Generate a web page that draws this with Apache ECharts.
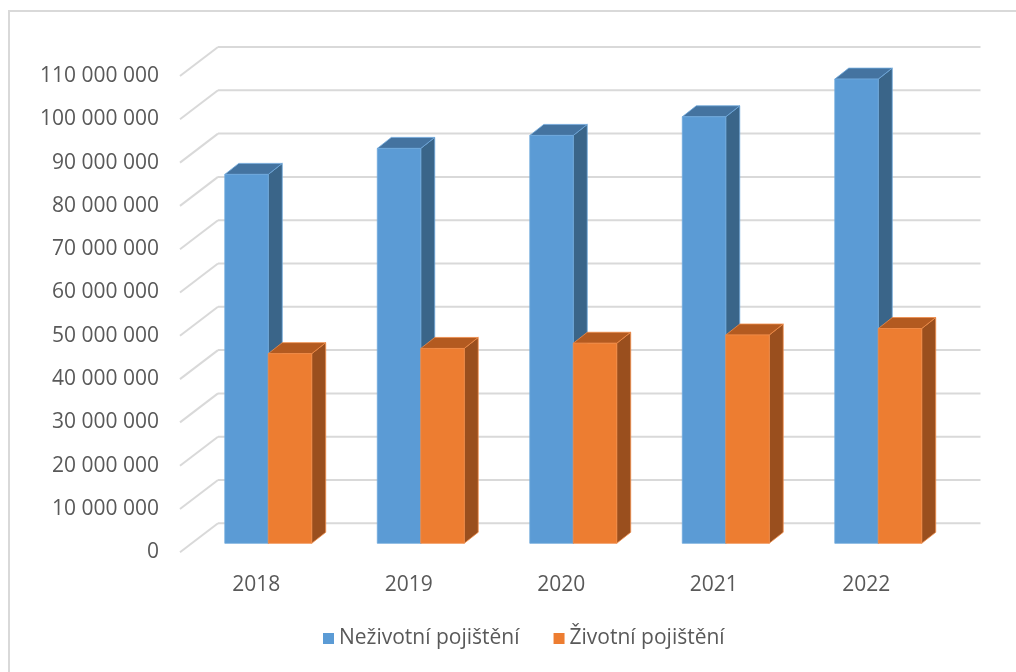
<!DOCTYPE html>
<html>
<head>
<meta charset="utf-8">
<script src="https://cdn.jsdelivr.net/npm/echarts@6/dist/echarts.min.js"></script>
<style>
  html, body { margin: 0; padding: 0; background: #ffffff; }
  #chart { width: 1016px; height: 672px; }
</style>
</head>
<body>
<div id="chart"></div>
<script>
// Categories and values
const years = ['2018', '2019', '2020', '2021', '2022'];
const nonLife = [85200000, 91200000, 94200000, 98500000, 107200000];
const life = [43800000, 45000000, 46200000, 48100000, 49600000];
const seriesNames = ['Neživotní pojištění', 'Životní pojištění'];
const yTicks = [0, 10000000, 20000000, 30000000, 40000000, 50000000,
  60000000, 70000000, 80000000, 90000000, 100000000, 110000000];

// Oblique 3D projection offsets (pixels)
const WALL = [38, -29];       // front plane -> back wall
const BAR_PLANE = [12, -9];   // front plane -> bar front faces
const BAR_DEPTH = [14, -11];  // bar depth
const BAR_RATIO = 0.285;      // bar width as share of category band

const FONT = '"Open Sans", "Liberation Sans", sans-serif';
const TEXT = '#595959';
const GRID = '#d9d9d9';

function fmt(v) {
  return String(v).replace(/\B(?=(\d{3})+(?!\d))/g, ' ');
}

function gridLines(params, api) {
  const p = api.coord([0, api.value(1)]);
  const band = api.size([1, 0])[0];
  const left = p[0] - band / 2;
  const right = left + band * years.length;
  const y = p[1];
  const style = { stroke: GRID, lineWidth: 2 };
  return {
    type: 'group',
    children: [
      { type: 'line', shape: { x1: left, y1: y, x2: left + WALL[0], y2: y + WALL[1] }, style },
      { type: 'line', shape: { x1: left + WALL[0], y1: y + WALL[1], x2: right + WALL[0], y2: y + WALL[1] }, style }
    ]
  };
}

function boxRenderer(slot, front, top, side, edge) {
  return function (params, api) {
    const base = api.coord([api.value(0), 0]);
    const peak = api.coord([api.value(0), api.value(1)]);
    const band = api.size([1, 0])[0];
    const w = band * BAR_RATIO;
    const x0 = base[0] + BAR_PLANE[0] + (slot - 1) * w;
    const x1 = x0 + w;
    const yb = base[1] + BAR_PLANE[1];
    const yt = peak[1] + BAR_PLANE[1];
    const dx = BAR_DEPTH[0], dy = BAR_DEPTH[1];
    const es = { stroke: edge, lineWidth: 0.8 };
    return {
      type: 'group',
      children: [
        { type: 'polygon', shape: { points: [[x1, yb], [x1, yt], [x1 + dx, yt + dy], [x1 + dx, yb + dy]] },
          style: Object.assign({ fill: side }, es) },
        { type: 'polygon', shape: { points: [[x0, yt], [x1, yt], [x1 + dx, yt + dy], [x0 + dx, yt + dy]] },
          style: Object.assign({ fill: top }, es) },
        { type: 'rect', shape: { x: x0, y: yt, width: w, height: yb - yt },
          style: Object.assign({ fill: front }, es) }
      ]
    };
  };
}

const chart = echarts.init(document.getElementById('chart'));
chart.setOption({
  animation: false,
  backgroundColor: '#ffffff',
  graphic: [{
    type: 'rect', silent: true,
    shape: { x: 9, y: 11, width: 1200, height: 900 },
    style: { fill: 'none', stroke: GRID, lineWidth: 2 }
  }],
  grid: { left: 180, right: 73.5, top: 76, bottom: 119.7 },
  legend: {
    data: seriesNames,
    left: 318, top: 623,
    icon: 'rect', itemWidth: 11, itemHeight: 11, itemGap: 34,
    textStyle: { color: TEXT, fontSize: 21, fontFamily: FONT }
  },
  xAxis: {
    type: 'category',
    data: years,
    axisLine: { show: false },
    axisTick: { show: false },
    splitLine: { show: false },
    axisLabel: { color: TEXT, fontSize: 21, fontFamily: FONT, margin: 22 }
  },
  yAxis: {
    type: 'value',
    min: 0, max: 110000000, interval: 10000000,
    axisLine: { show: false },
    axisTick: { show: false },
    splitLine: { show: false },
    axisLabel: { color: TEXT, fontSize: 21, fontFamily: FONT, margin: 21,
      padding: [5, 0, 0, 0], formatter: fmt }
  },
  series: [
    {
      type: 'custom', silent: true, clip: false, z: 1,
      renderItem: gridLines,
      data: yTicks.map(v => [0, v])
    },
    {
      name: seriesNames[0], type: 'custom', clip: false, z: 2,
      itemStyle: { color: '#5B9BD5' },
      renderItem: boxRenderer(0, '#5B9BD5', '#4473A0', '#3A6589', '#6FA8DC'),
      data: nonLife.map((v, i) => [i, v])
    },
    {
      name: seriesNames[1], type: 'custom', clip: false, z: 3,
      itemStyle: { color: '#ED7D31' },
      renderItem: boxRenderer(1, '#ED7D31', '#B35A20', '#9A4F1E', '#F08C48'),
      data: life.map((v, i) => [i, v])
    }
  ]
});
</script>
</body>
</html>
